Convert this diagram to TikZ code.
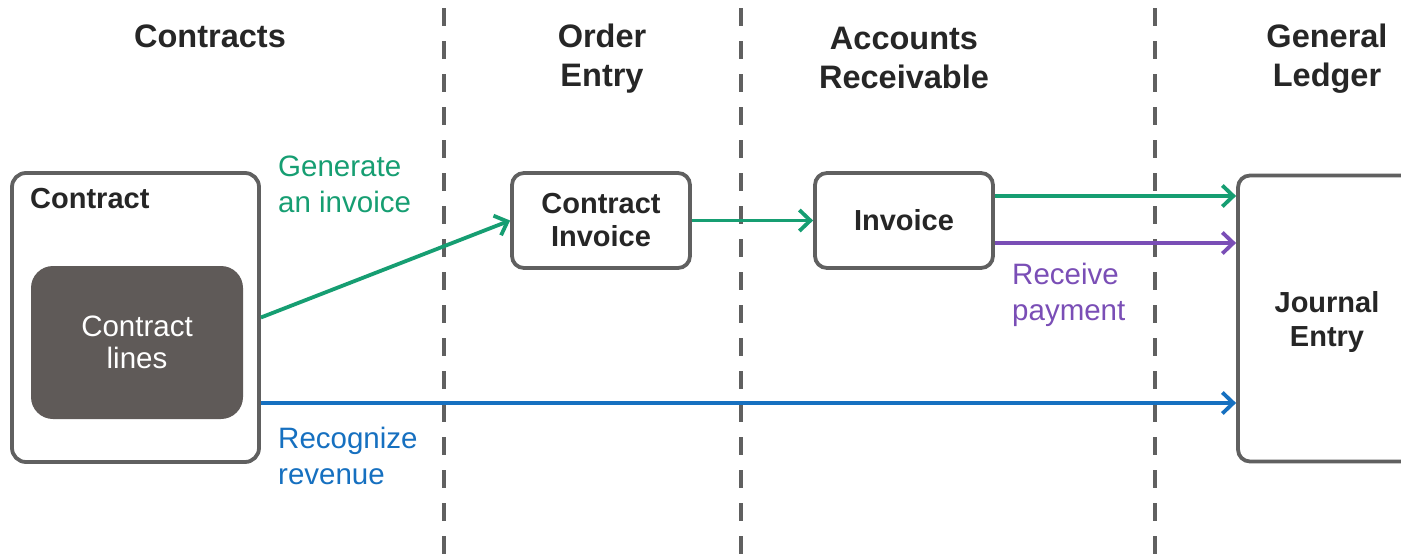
\documentclass[tikz,border=0pt]{standalone}
\usepackage{fontspec}
\setmainfont{Liberation Sans}
\usetikzlibrary{arrows.meta}
\definecolor{bordergray}{RGB}{96,96,96}
\definecolor{darkbox}{RGB}{95,90,88}
\definecolor{textdark}{RGB}{38,38,38}
\definecolor{flowgreen}{RGB}{22,158,114}
\definecolor{flowpurple}{RGB}{122,78,182}
\definecolor{flowblue}{RGB}{22,112,192}
\begin{document}
\begin{tikzpicture}[x=1pt,y=-1pt,
  title/.style={font=\fontsize{32.5}{39}\selectfont\bfseries, text=textdark, align=center, inner sep=0},
  box/.style={draw=bordergray, line width=3.8pt, rounded corners=12pt, fill=white, inner sep=0,
    font=\fontsize{29}{33}\selectfont\bfseries, text=textdark, align=center},
  lbl/.style={font=\fontsize{29.5}{35.5}\selectfont, align=left, anchor=west, inner sep=0},
  flow/.style={line width=3.8pt, -{Straight Barb[length=11pt,width=21pt,line width=3.8pt]}},
  lane/.style={draw=bordergray, line width=4pt, dash pattern=on 18pt off 15pt}
]
\clip (0,0) rectangle (1401,557);
\fill[white] (0,0) rectangle (1401,557);

% lane separators
\draw[lane] (444,8) -- (444,565);
\draw[lane] (741,8) -- (741,565);
\draw[lane] (1155,8) -- (1155,565);

% titles
\node[title] (t1) at (210,36) {Contracts};
\node[title] (t2) at (602,59) {Order\\Entry};
\node[title] (t3) at (904,58) {Accounts\\Receivable};
\node[title] (t4) at (1327,59) {General\\Ledger};

% boxes
\node[box, minimum width=247pt, minimum height=289pt, rounded corners=14pt] (contract) at (135.5,317.5) {};
\node[font=\fontsize{29}{34}\selectfont\bfseries, text=textdark, anchor=west, inner sep=0] (ctitle) at (30,199) {Contract};
\node[fill=darkbox, rounded corners=22pt, minimum width=212pt, minimum height=153pt, inner sep=0,
  text=white, font=\fontsize{29.5}{32}\selectfont, align=center] (lines) at (137,342.5) {Contract\\lines};

\node[box, minimum width=178pt, minimum height=95pt] (ci) at (601,220.5) {Contract\\Invoice};
\node[box, minimum width=178pt, minimum height=95pt] (inv) at (904,220.5) {Invoice};
\node[box, minimum width=178pt, minimum height=286pt, text depth=0pt,
  font=\fontsize{29}{34}\selectfont\bfseries] (jou) at (1327,318.5) {Journal\\Entry};

% connectors
\draw[flow, flowgreen] (contract.east) -- (ci.west);
\draw[flow, flowgreen] (ci.east) -- (inv.west);
\draw[flow, flowgreen] ([yshift=24.5pt]inv.east) -- ([yshift=24.5pt]inv.east -| jou.west);
\draw[flow, flowpurple] ([yshift=-22.5pt]inv.east) -- ([yshift=-22.5pt]inv.east -| jou.west);
\draw[flow, flowblue] ([yshift=-85.5pt]contract.east) -- ([yshift=-85.5pt]contract.east -| jou.west);

% labels
\node[lbl, text=flowgreen] (l1) at (278,184.5) {Generate\\an invoice};
\node[lbl, text=flowpurple] (l2) at (1012,295) {Receive\\payment};
\node[lbl, text=flowblue] (l3) at (278,456) {Recognize\\revenue};
\end{tikzpicture}
\end{document}
